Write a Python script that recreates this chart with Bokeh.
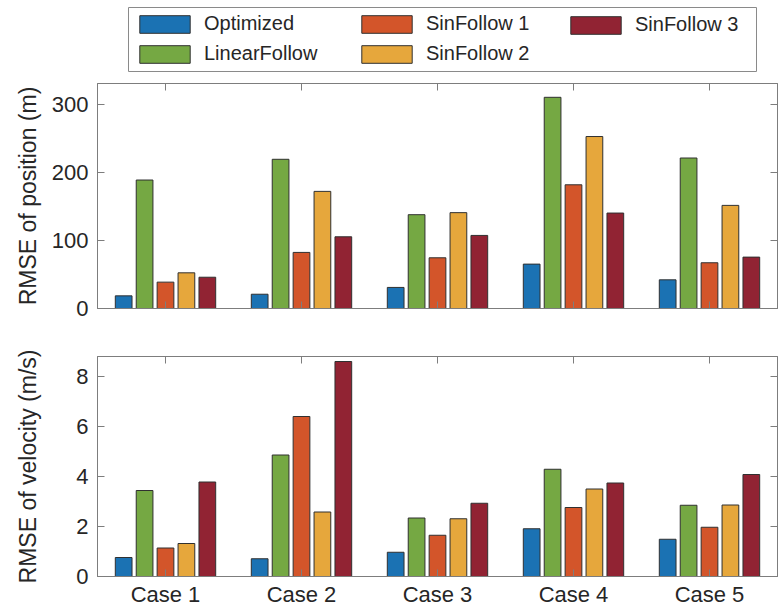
from bokeh.plotting import figure
from bokeh.models import Range1d, LinearAxis, FixedTicker, Legend, LegendItem, ColumnDataSource
from bokeh.layouts import column
from bokeh.transform import dodge
from bokeh.embed import file_html
from bokeh.resources import INLINE

cases = ["Case 1", "Case 2", "Case 3", "Case 4", "Case 5"]
case_x = [1, 2, 3, 4, 5]
methods = ["Optimized", "LinearFollow", "SinFollow 1", "SinFollow 2", "SinFollow 3"]
colors = ["#1b72b3", "#75a843", "#d3552a", "#e6a73c", "#912333"]

pos_optimized = [18.6, 21.0, 31.0, 65.3, 42.2]
pos_linear = [189.0, 219.5, 138.0, 310.7, 221.4]
pos_sin1 = [38.8, 82.5, 74.6, 182.0, 67.3]
pos_sin2 = [52.5, 172.3, 141.0, 253.0, 151.7]
pos_sin3 = [46.0, 105.5, 107.5, 140.4, 75.6]

vel_optimized = [0.76, 0.71, 0.97, 1.91, 1.49]
vel_linear = [3.44, 4.86, 2.34, 4.29, 2.85]
vel_sin1 = [1.14, 6.40, 1.65, 2.76, 1.97]
vel_sin2 = [1.32, 2.58, 2.31, 3.50, 2.86]
vel_sin3 = [3.78, 8.60, 2.93, 3.74, 4.08]

pos_ticks = [0, 100, 200, 300]
vel_ticks = [0, 2, 4, 6, 8]

FONT = "Liberation Sans"
AX = "#7d7d7d"
TXT = "#262626"
EDGE = "#303030"
W = 781
PITCH = 0.1538
BAR_W = 0.123


def style_axis(ax, ticks, labels=True):
    ax.ticker = FixedTicker(ticks=ticks)
    ax.major_tick_in = 7
    ax.major_tick_out = 0
    ax.minor_tick_line_color = None
    ax.axis_line_color = AX
    ax.major_tick_line_color = AX
    ax.major_label_text_font = FONT
    ax.major_label_text_color = TXT
    ax.axis_label_text_font = FONT
    ax.axis_label_text_color = TXT
    ax.axis_label_text_font_style = "normal"
    if not labels:
        ax.major_label_overrides = {t: "" for t in ticks}
        ax.major_label_text_font_size = "1px"
        ax.major_label_standoff = 0


def make_plot(h, ymax, yticks, series, ylabel, label_standoff, top, bottom, xlabels):
    p = figure(width=W, height=h, x_range=Range1d(0.5, 5.5), y_range=Range1d(0, ymax),
               output_backend="svg", toolbar_location=None,
               min_border_left=97, min_border_right=4, min_border_top=top, min_border_bottom=bottom)
    p.frame_align = False
    p.grid.visible = False
    p.outline_line_color = AX
    p.background_fill_color = "white"
    p.border_fill_color = "white"
    data = {"x": case_x}
    for m, vals in zip(methods, series):
        data[m] = vals
    src = ColumnDataSource(data)
    for k, (m, c) in enumerate(zip(methods, colors)):
        p.vbar(x=dodge("x", (k - 2) * PITCH, range=p.x_range), top=m, width=BAR_W,
               source=src, fill_color=c, line_color=EDGE, line_width=1)
    xa = p.xaxis[0]
    style_axis(xa, case_x, labels=xlabels)
    if xlabels:
        xa.major_label_overrides = {x: c for x, c in zip(case_x, cases)}
        xa.major_label_text_font_size = "22px"
        xa.major_label_standoff = 5
    ya = p.yaxis[0]
    style_axis(ya, yticks)
    ya.major_label_text_font_size = "22px"
    ya.major_label_standoff = 9
    ya.axis_label = ylabel
    ya.axis_label_text_font_size = "23px"
    ya.axis_label_standoff = label_standoff
    above = LinearAxis()
    style_axis(above, case_x, labels=False)
    p.add_layout(above, "above")
    right = LinearAxis()
    style_axis(right, yticks, labels=False)
    p.add_layout(right, "right")
    return p


# legend figure: its frame is the legend box; swatch renderers hold no drawable data
lf = figure(width=W, height=78, output_backend="svg", toolbar_location=None,
            x_axis_type=None, y_axis_type=None,
            min_border_left=128, min_border_right=25, min_border_top=7, min_border_bottom=7,
            x_range=Range1d(0, 1), y_range=Range1d(0, 1))
lf.frame_align = False
lf.grid.visible = False
lf.outline_line_color = "#8a8a8a"
lf.outline_line_width = 1
nan = float("nan")
leg_rs = {m: lf.vbar(x=[nan], top=[nan], width=0.1, fill_color=c, line_color=EDGE, line_width=1)
          for m, c in zip(methods, colors)}

legend_columns = [(["Optimized", "LinearFollow"], (5, 6)),
                  (["SinFollow 1", "SinFollow 2"], (227, 6)),
                  (["SinFollow 3"], (436, 35))]
for names, loc in legend_columns:
    leg = Legend(items=[LegendItem(label=n, renderers=[leg_rs[n]]) for n in names],
                 location=loc, orientation="vertical",
                 label_text_font=FONT, label_text_font_size="20px", label_text_color=TXT,
                 glyph_width=63, glyph_height=22, label_standoff=8, label_height=22,
                 spacing=7, padding=0, margin=0,
                 border_line_color=None, background_fill_alpha=0)
    lf.add_layout(leg, "center")

p1 = make_plot(252, 331, pos_ticks,
               [pos_optimized, pos_linear, pos_sin1, pos_sin2, pos_sin3],
               "RMSE of position (m)", 8, 5, 22, False)
p2 = make_plot(279, 8.8, vel_ticks,
               [vel_optimized, vel_linear, vel_sin1, vel_sin2, vel_sin3],
               "RMSE of velocity (m/s)", 32, 26, 29, True)

layout = column(lf, p1, p2, spacing=0)
open("out.html", "w").write(file_html(layout, INLINE))
